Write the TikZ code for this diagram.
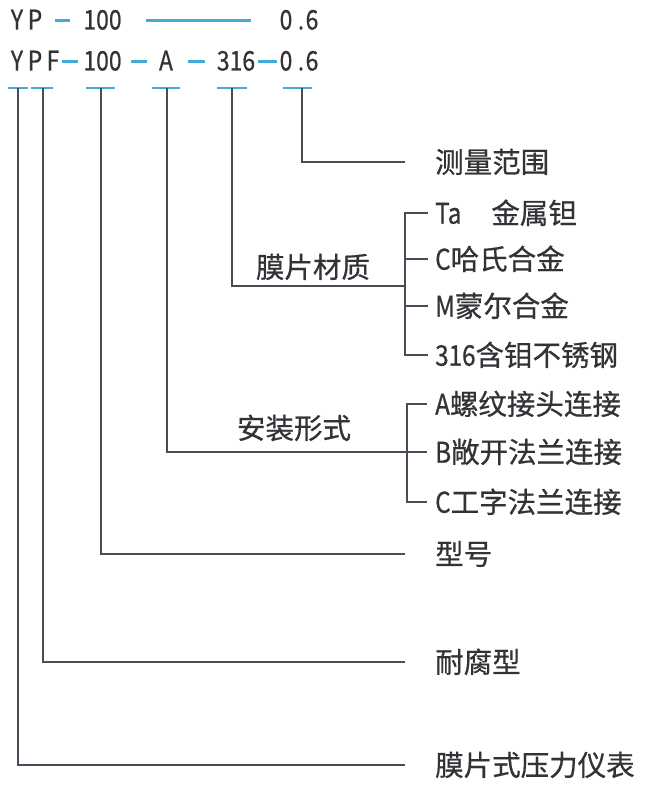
\documentclass[tikz,border=0pt]{standalone}
\usepackage{fontspec}
\setmainfont{Noto Sans CJK SC}[FakeBold=0.6]
\newfontfamily\lat{Noto Sans CJK SC}[FakeStretch=0.85,FakeBold=0.6]
\definecolor{linec}{RGB}{72,76,86}
\definecolor{txtc}{RGB}{50,50,55}
\definecolor{tickc}{RGB}{70,170,215}
\begin{document}
\begin{tikzpicture}[x=1pt,y=-1pt,
  code/.style={inner sep=0pt, font=\lat\fontsize{27}{27}\selectfont, text=txtc, text height=18pt, text depth=0pt},
  lab/.style={inner sep=0pt, anchor=west, font=\fontsize{28.5}{28.5}\selectfont, text=txtc, text height=25pt, text depth=3.6pt},
  grp/.style={inner sep=0pt, font=\fontsize{28.5}{28.5}\selectfont, text=txtc, text height=25pt, text depth=3.6pt},
  conn/.style={draw=linec, line width=1.3pt},
  tick/.style={draw=tickc, line width=2.4pt},
  sep/.style={draw=tickc, line width=2.2pt}]
\useasboundingbox[fill=white] (0,0) rectangle (650,791);

% row 1
\node[code,minimum width=14pt] (y1) at (17,20.5) {Y};
\node[code,minimum width=14pt] (p1) at (35,20.5) {P};
\node[code,minimum width=35pt] (h1) at (102.5,20.5) {100};
\node[code,minimum width=16pt] (z1) at (286,20.5) {0};
\node[code] (d1) at (301,20.5) {.};
\node[code,minimum width=12pt] (s1) at (312,20.5) {6};
\draw[sep, shorten <=13pt, shorten >=13pt] (p1) -- (h1);
\draw[sep, shorten <=24pt, shorten >=27pt] (h1) -- (z1);

% row 2
\node[code,minimum width=14pt] (y2) at (17,61.5) {Y};
\node[code,minimum width=14pt] (p2) at (35,61.5) {P};
\node[code,minimum width=14pt] (f2) at (53,61.5) {F};
\node[code,minimum width=35pt] (h2) at (102.5,61.5) {100};
\node[code,minimum width=18pt] (a2) at (166,61.5) {A};
\node[code,minimum width=42pt] (t2) at (236,61.5) {316};
\node[code,minimum width=16pt] (z2) at (286,61.5) {0};
\node[code] (d2) at (301,61.5) {.};
\node[code,minimum width=12pt] (s2) at (312,61.5) {6};
\draw[sep, shorten <=2pt, shorten >=5pt] (f2) -- (h2);
\draw[sep, shorten <=9pt, shorten >=10pt] (h2) -- (a2);
\draw[sep, shorten <=13pt, shorten >=10pt] (a2) -- (t2);
\draw[sep, shorten <=1pt, shorten >=1pt] (t2) -- (z2);

% tick marks
\coordinate (k1) at (18,88);
\coordinate (k2) at (43,88);
\coordinate (k3) at (101,88);
\coordinate (k4) at (167,88);
\coordinate (k5) at (232,88);
\coordinate (k6) at (302,88);
\draw[tick] ([xshift=-10pt]k1) -- ([xshift=10pt]k1);
\draw[tick] ([xshift=-12pt]k2) -- ([xshift=10pt]k2);
\draw[tick] ([xshift=-15pt]k3) -- ([xshift=14pt]k3);
\draw[tick] ([xshift=-15pt]k4) -- ([xshift=13pt]k4);
\draw[tick] ([xshift=-15pt]k5) -- ([xshift=15pt]k5);
\draw[tick] ([xshift=-19pt]k6) -- ([xshift=10pt]k6);

% labels
\node[lab] (m1) at (435,162) {测量范围};
\node[lab] (ta) at (435,213) {{\lat Ta}\hspace{30pt}金属钽};
\node[lab] (hc) at (435,259) {{\lat C}哈氏合金};
\node[lab] (mn) at (435,306) {{\lat M}蒙尔合金};
\node[lab] (ss) at (435,355) {{\lat 316}含钼不锈钢};
\node[lab] (ia) at (435,404) {{\lat A}螺纹接头连接};
\node[lab] (ib) at (435,452) {{\lat B}敞开法兰连接};
\node[lab] (ic) at (435,502) {{\lat C}工字法兰连接};
\node[lab] (xh) at (435,554) {型号};
\node[lab] (nf) at (435,662) {耐腐型};
\node[lab] (mp) at (435,765) {膜片式压力仪表};
\node[grp] (g1) at (313,267) {膜片材质};
\node[grp] (g2) at (294,428) {安装形式};

% connectors
\draw[conn, shorten >=30pt] (k6) |- (m1.west);
\coordinate (j1) at (405,286);
\draw[conn] (k5) |- (j1);
\foreach \n in {ta,hc,mn,ss} \draw[conn, shorten >=7pt] (j1) |- (\n.west);
\coordinate (j2) at (407,452);
\draw[conn, shorten >=8pt] (k4) |- (ib.west);
\foreach \n in {ia,ic} \draw[conn, shorten >=8pt] (j2) |- (\n.west);
\draw[conn, shorten >=30pt] (k3) |- (xh.west);
\draw[conn, shorten >=30pt] (k2) |- (nf.west);
\draw[conn, shorten >=30pt] (k1) |- (mp.west);
\end{tikzpicture}
\end{document}
